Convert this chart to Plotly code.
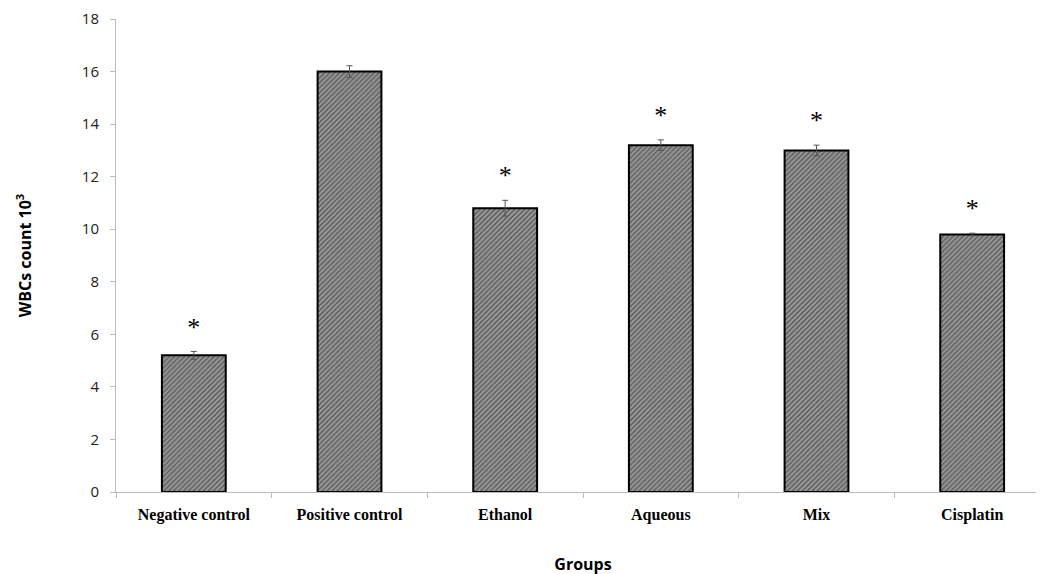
import plotly.graph_objects as go

categories = ["Negative control", "Positive control", "Ethanol", "Aqueous", "Mix", "Cisplatin"]
values = [5.2, 16.0, 10.8, 13.2, 13.0, 9.8]
errors = [0.15, 0.22, 0.3, 0.2, 0.2, 0.05]
star_groups = ["Negative control", "Ethanol", "Aqueous", "Mix", "Cisplatin"]

star_x = [c for c in categories if c in star_groups]
star_y = [v + e + 0.85 for c, v, e in zip(categories, values, errors) if c in star_groups]

fig = go.Figure()
fig.add_trace(go.Bar(
    x=categories, y=values,
    width=0.41,
    marker=dict(
        color="#7a7a7a",
        line=dict(color="black", width=2),
        pattern=dict(shape="/", fgcolor="#1a1a1a", bgcolor="#9c9c9c", size=3.5, solidity=0.45),
    ),
    error_y=dict(type="data", array=errors, color="#555555", thickness=1, width=3),
    showlegend=False,
))
fig.add_trace(go.Scatter(
    x=star_x, y=star_y, mode="text", text=["*"] * len(star_x),
    textfont=dict(family="Liberation Serif", size=26, color="black"),
    showlegend=False, hoverinfo="skip",
))

fig.update_layout(
    width=1044, height=574,
    margin=dict(l=108, r=2, t=11, b=90),
    plot_bgcolor="white", paper_bgcolor="white",
)
fig.update_xaxes(
    automargin=False,
    showline=True, linecolor="#bdbdbd", linewidth=1,
    ticks="outside", tickson="boundaries", ticklen=5, tickcolor="#bdbdbd",
    ticklabelstandoff=8,
    tickfont=dict(family="Liberation Serif", size=16, color="black", weight="bold"),
    title=dict(text="<b>Groups</b>", font=dict(family="Open Sans", size=16, color="black"), standoff=35),
)
fig.update_yaxes(
    automargin=False,
    range=[0, 18], dtick=2,
    showline=True, linecolor="#bdbdbd", linewidth=1,
    ticks="outside", ticklen=5, tickcolor="#bdbdbd",
    ticklabelstandoff=8, ticklabeloverflow="allow",
    showgrid=False, zeroline=False,
    tickfont=dict(family="Open Sans", size=15, color="#222222"),
    title=dict(text="<b>WBCs count 10<sup>3</sup></b>", font=dict(family="Open Sans", size=16, color="black"), standoff=46),
)

fig.write_html("out.html")
